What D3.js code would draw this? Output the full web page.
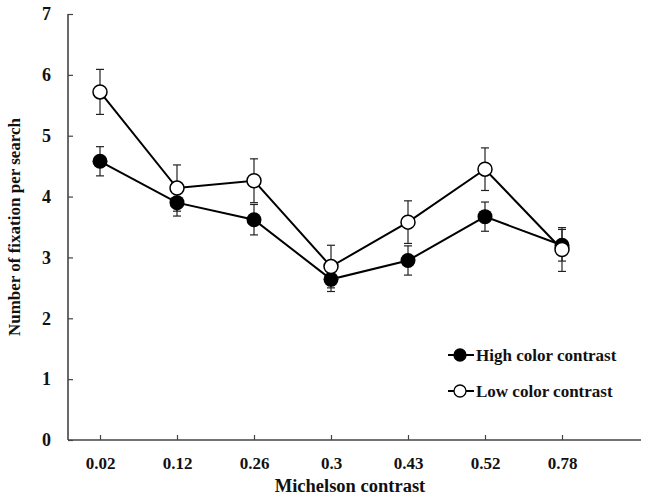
<!DOCTYPE html>
<html>
<head>
<meta charset="utf-8">
<script src="https://cdn.jsdelivr.net/npm/d3@7"></script>
<style>
  body { margin: 0; background: #fff; }
  text { font-family: "Liberation Serif", "DejaVu Serif", serif; font-weight: bold; fill: #111; }
</style>
</head>
<body>
<svg width="647" height="499"></svg>
<script>
const contrasts = ['0.02', '0.12', '0.26', '0.3', '0.43', '0.52', '0.78'];
const yTicks = [0, 1, 2, 3, 4, 5, 6, 7];

const highMean = [4.58, 3.90, 3.62, 2.64, 2.95, 3.67, 3.20];
const highErr  = [0.24, 0.22, 0.25, 0.20, 0.24, 0.24, 0.26];
const lowMean  = [5.72, 4.14, 4.26, 2.85, 3.58, 4.45, 3.13];
const lowErr   = [0.37, 0.38, 0.36, 0.35, 0.35, 0.35, 0.36];

const seriesNames = ['High color contrast', 'Low color contrast'];

const svg = d3.select('svg');

const axisX = 68;

const x = d3.scalePoint()
	.domain(contrasts)
	.range([100, 562]);

const y = d3.scaleLinear()
	.domain([0, 7])
	.range([440, 14]);

// axes
const axisColor = '#444';

svg.append('line')
	.attr('x1', axisX).attr('x2', axisX)
	.attr('y1', y(7)).attr('y2', y(0))
	.attr('stroke', axisColor).attr('stroke-width', 1.6);

svg.append('line')
	.attr('x1', axisX).attr('x2', 641)
	.attr('y1', y(0)).attr('y2', y(0))
	.attr('stroke', axisColor).attr('stroke-width', 1.6);

const yAxis = d3.axisLeft(y).tickValues(yTicks).tickSize(-5).tickPadding(17).tickFormat(d3.format('d'));
svg.append('g')
	.attr('transform', `translate(${axisX},0)`)
	.call(yAxis)
	.call(g => g.select('.domain').remove())
	.call(g => g.selectAll('.tick line').attr('stroke', axisColor).attr('stroke-width', 1.2))
	.call(g => g.selectAll('.tick text').style('font-size', '18px'));

const xAxis = d3.axisBottom(x).tickSize(-5).tickPadding(17);
svg.append('g')
	.attr('transform', `translate(0,${y(0)})`)
	.call(xAxis)
	.call(g => g.select('.domain').remove())
	.call(g => g.selectAll('.tick line').attr('stroke', axisColor).attr('stroke-width', 1.2))
	.call(g => g.selectAll('.tick text').style('font-size', '17px'));

svg.append('text')
	.attr('x', 350)
	.attr('y', 492)
	.attr('text-anchor', 'middle')
	.style('font-size', '18.5px')
	.text('Michelson contrast');

svg.append('text')
	.attr('transform', `translate(20,${y(3.5)}) rotate(-90)`)
	.attr('text-anchor', 'middle')
	.style('font-size', '17px')
	.text('Number of fixation per search');

// series
const line = d3.line()
	.x((d, i) => x(contrasts[i]))
	.y(d => y(d));

function drawErrors(means, errs) {
	const g = svg.append('g').attr('stroke', '#222').attr('stroke-width', 1.2);
	means.forEach((m, i) => {
		const cx = x(contrasts[i]);
		g.append('line').attr('x1', cx).attr('x2', cx).attr('y1', y(m + errs[i])).attr('y2', y(m - errs[i]));
		g.append('line').attr('x1', cx - 4).attr('x2', cx + 4).attr('y1', y(m + errs[i])).attr('y2', y(m + errs[i]));
		g.append('line').attr('x1', cx - 4).attr('x2', cx + 4).attr('y1', y(m - errs[i])).attr('y2', y(m - errs[i]));
	});
}

drawErrors(highMean, highErr);
drawErrors(lowMean, lowErr);

svg.append('path').datum(highMean)
	.attr('d', line).attr('fill', 'none').attr('stroke', '#000').attr('stroke-width', 2);
svg.append('path').datum(lowMean)
	.attr('d', line).attr('fill', 'none').attr('stroke', '#000').attr('stroke-width', 2);

svg.append('g').selectAll('circle')
	.data(highMean).join('circle')
	.attr('cx', (d, i) => x(contrasts[i]))
	.attr('cy', d => y(d))
	.attr('r', 7.5)
	.attr('fill', '#000');

svg.append('g').selectAll('circle')
	.data(lowMean).join('circle')
	.attr('cx', (d, i) => x(contrasts[i]))
	.attr('cy', d => y(d))
	.attr('r', 7)
	.attr('fill', '#fff')
	.attr('stroke', '#000')
	.attr('stroke-width', 1.5);

// legend
const legend = svg.append('g');
[0, 1].forEach(i => {
	const ly = 355 + i * 36;
	legend.append('line')
		.attr('x1', 448).attr('x2', 474).attr('y1', ly).attr('y2', ly)
		.attr('stroke', '#000').attr('stroke-width', 2);
	legend.append('circle')
		.attr('cx', 460).attr('cy', ly).attr('r', 6)
		.attr('fill', i === 0 ? '#000' : '#fff')
		.attr('stroke', '#000').attr('stroke-width', 1.3);
	legend.append('text')
		.attr('x', 476).attr('y', ly + 6)
		.style('font-size', '17px')
		.text(seriesNames[i]);
});
</script>
</body>
</html>
